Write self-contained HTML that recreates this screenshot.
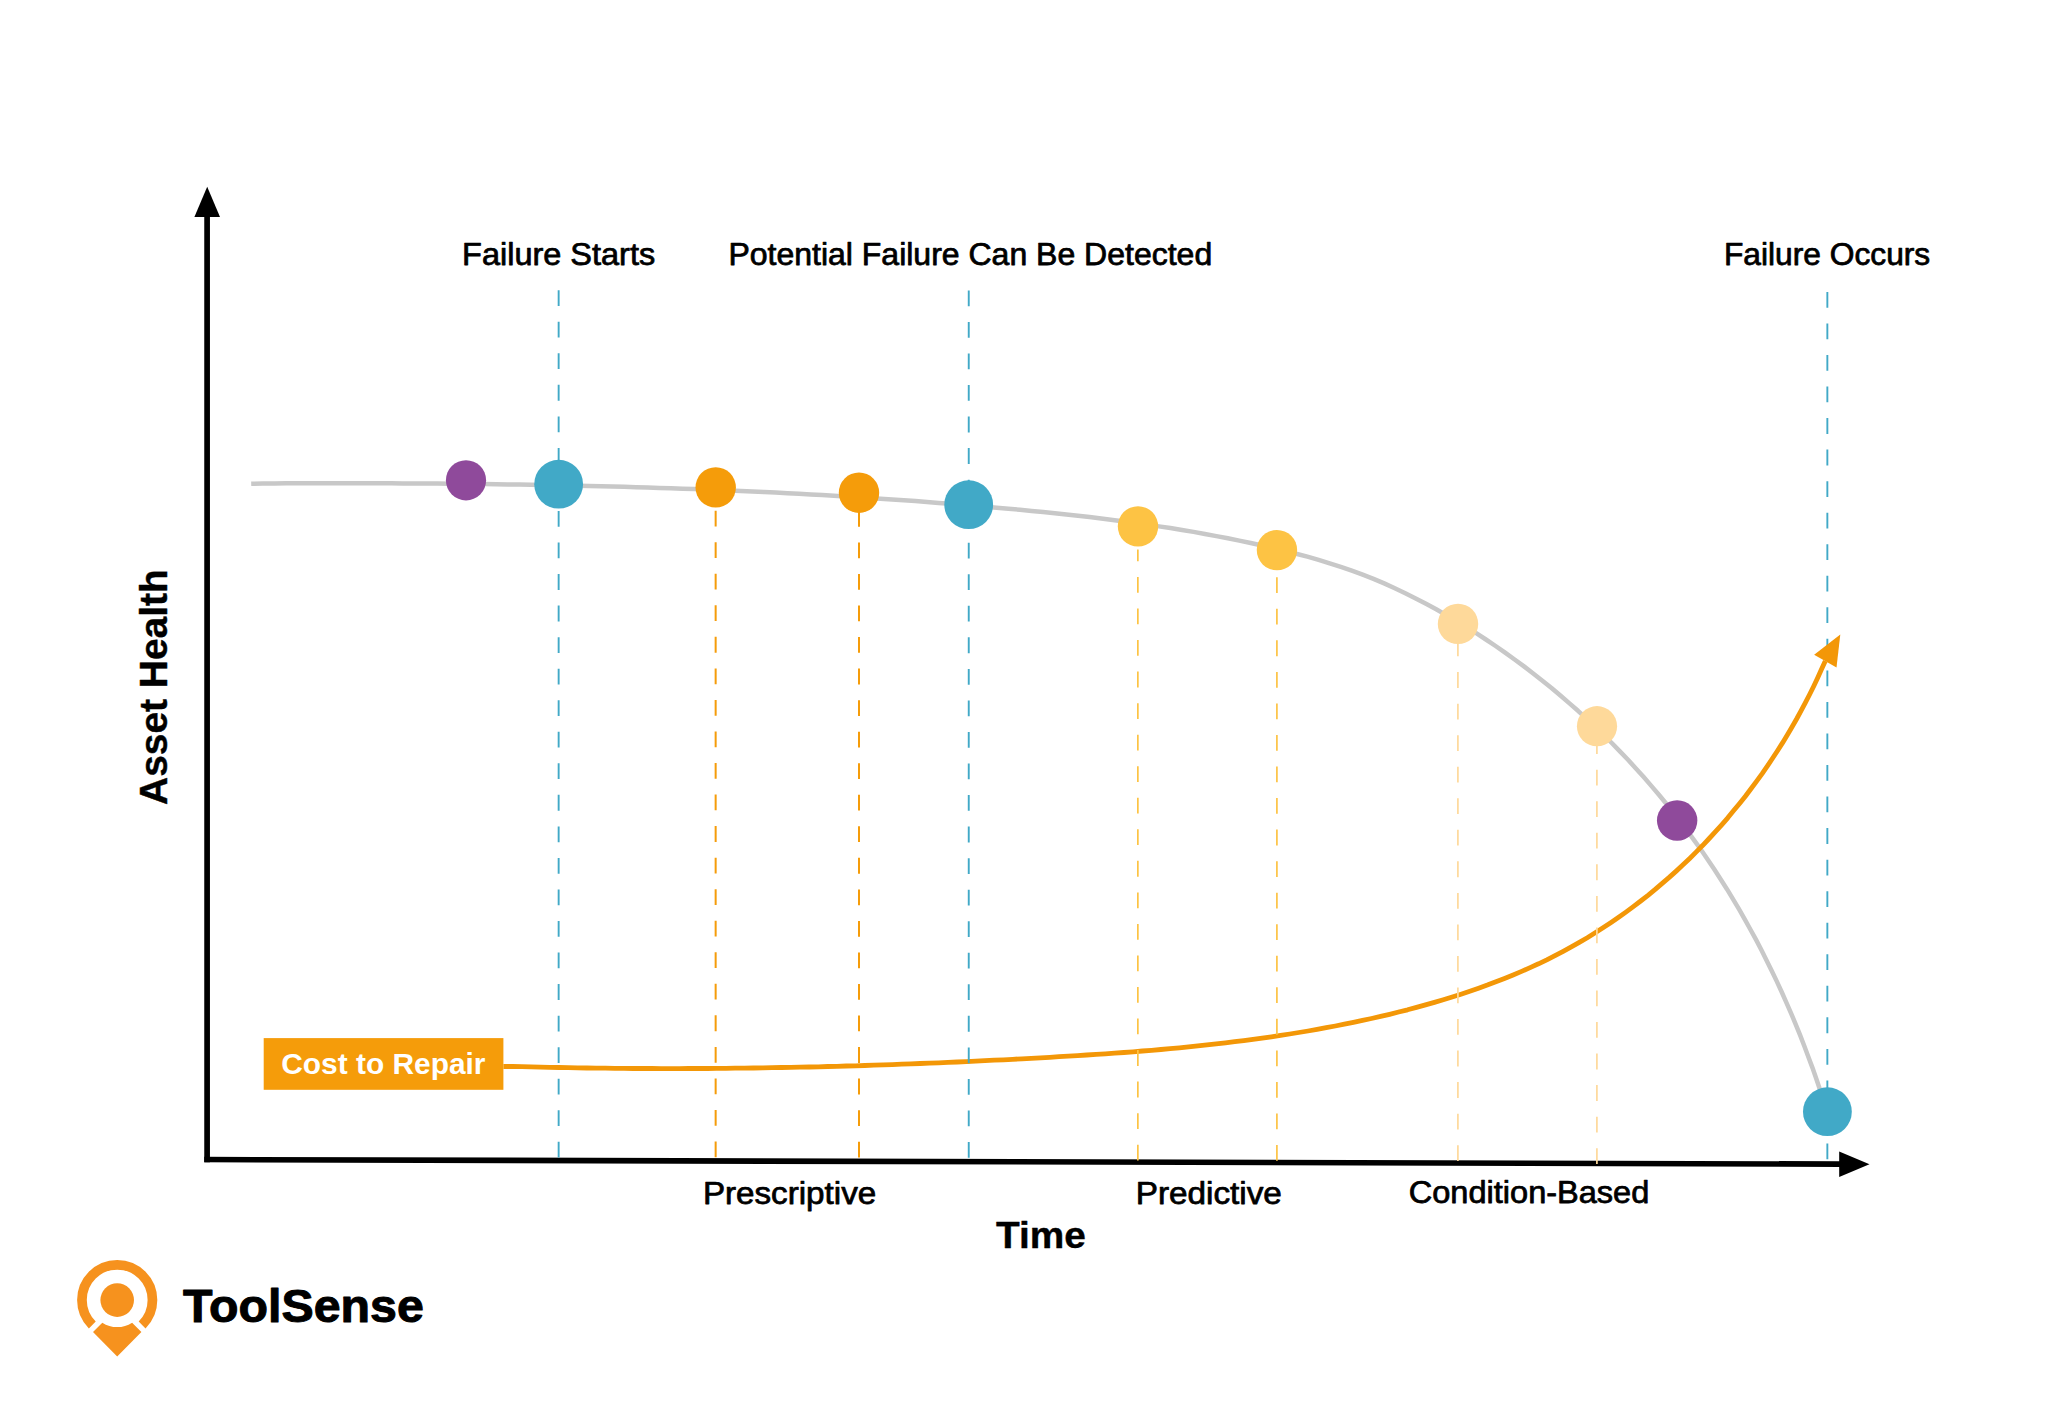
<!DOCTYPE html>
<html lang="en"><head><meta charset="utf-8"><title>P-F Curve – ToolSense</title>
<style>
html,body{margin:0;padding:0;background:#fff;}
body{width:2048px;height:1418px;overflow:hidden;}
svg{display:block;}
text{font-family:"Liberation Sans",sans-serif;}
</style></head><body>
<svg width="2048" height="1418" viewBox="0 0 2048 1418">
<rect width="2048" height="1418" fill="#fff"/>
<!-- asset health curve -->
<path d="M251.2 483.8 L262.9 483.5 L274.5 483.4 L286.2 483.3 L297.8 483.3 L309.5 483.3 L321.2 483.3 L332.8 483.2 L344.5 483.2 L356.1 483.2 L367.8 483.3 L379.5 483.3 L391.1 483.3 L402.8 483.4 L414.4 483.4 L426.1 483.5 L437.8 483.6 L449.4 483.7 L461.1 483.8 L472.8 483.9 L484.4 484.1 L496.1 484.2 L507.7 484.4 L519.4 484.5 L531.0 484.7 L542.7 484.9 L554.4 485.2 L566.0 485.4 L577.7 485.7 L589.3 485.9 L601.0 486.2 L612.6 486.5 L624.3 486.8 L636.0 487.2 L647.6 487.5 L659.3 487.9 L670.9 488.3 L682.6 488.7 L694.2 489.1 L705.9 489.5 L717.5 490.0 L729.2 490.5 L740.8 491.0 L752.5 491.5 L764.1 492.1 L775.7 492.6 L787.4 493.2 L799.0 493.8 L810.7 494.5 L822.3 495.1 L833.9 495.8 L845.6 496.5 L857.2 497.2 L868.9 497.9 L880.5 498.7 L892.1 499.5 L903.8 500.3 L915.4 501.1 L927.0 502.0 L938.6 502.9 L950.3 503.8 L961.9 504.7 L973.5 505.7 L985.1 506.7 L996.8 507.7 L1008.4 508.7 L1020.0 509.8 L1031.6 510.9 L1043.2 512.1 L1054.8 513.3 L1066.4 514.5 L1078.0 515.8 L1089.6 517.1 L1101.2 518.5 L1112.7 519.9 L1124.3 521.4 L1135.9 523.0 L1147.4 524.6 L1158.9 526.4 L1170.4 528.1 L1182.0 530.0 L1193.5 531.9 L1204.9 534.0 L1216.4 536.1 L1227.8 538.3 L1239.3 540.6 L1250.7 543.0 L1262.1 545.5 L1273.5 548.1 L1284.8 550.8 L1296.1 553.7 L1307.4 556.7 L1318.6 559.9 L1329.7 563.3 L1340.8 566.9 L1351.8 570.7 L1362.7 574.7 L1373.5 578.9 L1384.2 583.4 L1394.8 588.2 L1405.3 593.2 L1415.7 598.4 L1426.0 603.8 L1436.2 609.3 L1446.3 615.1 L1456.4 621.0 L1466.3 627.0 L1476.2 633.2 L1485.9 639.5 L1495.6 646.0 L1505.1 652.7 L1514.6 659.5 L1524.0 666.4 L1533.2 673.5 L1542.4 680.7 L1551.5 688.0 L1560.4 695.5 L1569.2 703.1 L1578.0 710.8 L1586.6 718.7 L1595.1 726.7 L1603.5 734.8 L1611.8 743.0 L1619.9 751.4 L1628.0 759.8 L1635.9 768.4 L1643.7 777.1 L1651.3 785.9 L1658.9 794.8 L1666.3 803.8 L1673.6 812.9 L1680.7 822.1 L1687.7 831.4 L1694.6 840.8 L1701.4 850.3 L1708.0 859.9 L1714.4 869.6 L1720.8 879.4 L1727.0 889.2 L1733.0 899.2 L1739.0 909.2 L1744.8 919.3 L1750.4 929.5 L1756.0 939.7 L1761.4 950.0 L1766.6 960.4 L1771.8 970.9 L1776.8 981.4 L1781.7 992.0 L1786.4 1002.6 L1791.1 1013.3 L1795.6 1024.1 L1800.0 1034.9 L1804.2 1045.8 L1808.3 1056.7 L1812.4 1067.6 L1816.2 1078.6 L1820.0 1089.7 L1823.7 1100.8 L1827.4 1111.8" fill="none" stroke="#c8c8c8" stroke-width="4.5" stroke-linejoin="round"/>
<!-- cost to repair curve -->
<path d="M503.4 1066.5 L512.6 1066.5 L521.9 1066.7 L531.2 1066.9 L540.5 1067.2 L549.7 1067.4 L559.0 1067.5 L568.3 1067.7 L577.6 1067.9 L586.9 1068.0 L596.2 1068.1 L605.4 1068.2 L614.7 1068.3 L624.0 1068.4 L633.2 1068.5 L642.5 1068.5 L651.8 1068.5 L661.0 1068.6 L670.3 1068.6 L679.6 1068.6 L688.8 1068.5 L698.1 1068.5 L707.4 1068.5 L716.6 1068.4 L725.9 1068.3 L735.1 1068.2 L744.4 1068.1 L753.6 1068.0 L762.9 1067.8 L772.1 1067.7 L781.4 1067.5 L790.6 1067.4 L799.9 1067.2 L809.2 1067.0 L818.4 1066.8 L827.7 1066.5 L836.9 1066.3 L846.2 1066.0 L855.4 1065.8 L864.7 1065.5 L873.9 1065.2 L883.2 1064.9 L892.4 1064.6 L901.7 1064.2 L910.9 1063.9 L920.2 1063.5 L929.4 1063.2 L938.7 1062.8 L947.9 1062.4 L957.2 1062.0 L966.4 1061.6 L975.7 1061.1 L984.9 1060.7 L994.2 1060.2 L1003.5 1059.8 L1012.7 1059.3 L1022.0 1058.8 L1031.2 1058.3 L1040.5 1057.8 L1049.8 1057.3 L1059.0 1056.7 L1068.3 1056.2 L1077.6 1055.6 L1086.8 1055.0 L1096.1 1054.4 L1105.3 1053.8 L1114.6 1053.1 L1123.9 1052.5 L1133.1 1051.8 L1142.4 1051.0 L1151.6 1050.3 L1160.9 1049.5 L1170.1 1048.6 L1179.4 1047.8 L1188.6 1046.9 L1197.8 1045.9 L1207.0 1044.9 L1216.2 1043.9 L1225.5 1042.8 L1234.7 1041.7 L1243.8 1040.6 L1253.0 1039.4 L1262.2 1038.1 L1271.4 1036.8 L1280.5 1035.4 L1289.7 1034.0 L1298.8 1032.5 L1308.0 1031.0 L1317.1 1029.4 L1326.2 1027.7 L1335.3 1026.0 L1344.4 1024.2 L1353.4 1022.4 L1362.5 1020.4 L1371.5 1018.5 L1380.6 1016.4 L1389.6 1014.3 L1398.6 1012.0 L1407.6 1009.8 L1416.5 1007.4 L1425.5 1004.9 L1434.4 1002.4 L1443.3 999.8 L1452.2 997.0 L1461.0 994.2 L1469.8 991.3 L1478.6 988.2 L1487.3 985.1 L1495.9 981.8 L1504.5 978.5 L1513.1 975.0 L1521.6 971.4 L1530.1 967.6 L1538.5 963.8 L1546.8 959.8 L1555.0 955.6 L1563.2 951.3 L1571.3 946.9 L1579.3 942.4 L1587.3 937.7 L1595.2 932.8 L1603.0 927.8 L1610.7 922.7 L1618.3 917.5 L1625.9 912.1 L1633.3 906.6 L1640.7 901.0 L1648.0 895.3 L1655.2 889.4 L1662.2 883.4 L1669.2 877.4 L1676.2 871.1 L1683.0 864.8 L1689.7 858.4 L1696.3 851.9 L1702.8 845.3 L1709.2 838.5 L1715.5 831.7 L1721.7 824.8 L1727.8 817.8 L1733.7 810.6 L1739.6 803.4 L1745.4 796.2 L1751.0 788.8 L1756.5 781.3 L1762.0 773.8 L1767.3 766.2 L1772.4 758.5 L1777.5 750.7 L1782.5 742.9 L1787.3 735.0 L1792.0 727.0 L1796.6 719.0 L1801.0 710.9 L1805.4 702.7 L1809.6 694.5 L1813.7 686.2 L1817.6 677.9 L1821.4 669.5 L1825.3 661.0" fill="none" stroke="#f39707" stroke-width="4.8" stroke-linejoin="round"/>
<!-- axes -->
<line x1="207.1" y1="1162.3" x2="207.1" y2="215" stroke="#000" stroke-width="5.7"/>
<polygon points="207.2,186.7 194.4,217.1 220.0,217.1" fill="#000"/>
<line x1="204.25" y1="1159.55" x2="1841" y2="1164.1" stroke="#000" stroke-width="5.6"/>
<polygon points="1869.5,1164.3 1839.2,1151.6 1839.2,1177.0" fill="#000"/>
<!-- dashed guides -->
<line x1="558.65" y1="1157.6" x2="558.65" y2="290.0" stroke="#41a9c7" stroke-width="1.9" stroke-dasharray="15.8 15.74"/>
<line x1="968.75" y1="1157.8" x2="968.75" y2="290.0" stroke="#41a9c7" stroke-width="1.9" stroke-dasharray="15.8 15.74"/>
<line x1="1827.35" y1="1159.3" x2="1827.35" y2="292.0" stroke="#41a9c7" stroke-width="1.9" stroke-dasharray="15.8 15.74"/>
<line x1="715.65" y1="1157.3" x2="715.65" y2="487.3" stroke="#f59c0a" stroke-width="2" stroke-dasharray="15.8 15.74"/>
<line x1="859.0" y1="1157.5" x2="859.0" y2="492.7" stroke="#f59c0a" stroke-width="2" stroke-dasharray="15.8 15.74"/>
<line x1="1137.85" y1="1160.5" x2="1137.85" y2="549.4" stroke="#fdc344" stroke-width="1.7" stroke-dasharray="15.8 15.74"/>
<line x1="1276.9" y1="1160.8" x2="1276.9" y2="550.3" stroke="#fdc344" stroke-width="1.7" stroke-dasharray="15.8 15.74"/>
<line x1="1457.9" y1="1161.0" x2="1457.9" y2="624.3" stroke="#fed99a" stroke-width="1.7" stroke-dasharray="15.8 15.74"/>
<line x1="1596.9" y1="1164.0" x2="1596.9" y2="726.6" stroke="#fed99a" stroke-width="1.7" stroke-dasharray="15.8 15.74"/>
<polygon points="0,0 -30.4,-12.85 -30.4,12.85" fill="#f39707" transform="translate(1840.3 634.6) rotate(-60.5)"/>
<!-- dots -->
<circle cx="466.0" cy="480.3" r="20.1" fill="#8f4a9b"/>
<circle cx="558.65" cy="484.2" r="24.4" fill="#41a9c7"/>
<circle cx="715.7" cy="487.4" r="20.2" fill="#f59c0a"/>
<circle cx="859.0" cy="492.7" r="20.2" fill="#f59c0a"/>
<circle cx="968.7" cy="504.7" r="24.4" fill="#41a9c7"/>
<circle cx="1138.0" cy="526.4" r="20.2" fill="#fdc344"/>
<circle cx="1276.95" cy="550.1" r="20.2" fill="#fdc344"/>
<circle cx="1458.0" cy="623.9" r="20.2" fill="#fed99a"/>
<circle cx="1597.0" cy="726.2" r="20.1" fill="#fed99a"/>
<circle cx="1677.15" cy="820.5" r="20.2" fill="#8f4a9b"/>
<circle cx="1827.4" cy="1111.7" r="24.4" fill="#41a9c7"/>
<!-- cost label -->
<rect x="263.7" y="1038.1" width="239.7" height="51.7" fill="#f59c0a"/>
<text x="281.30" y="1073.7" font-size="29" font-weight="bold" fill="#fff" textLength="204.18" lengthAdjust="spacingAndGlyphs">Cost to Repair</text>
<!-- labels -->
<text x="462.10" y="265.0" font-size="30.5" font-weight="normal" fill="#000" stroke="#000" stroke-width="0.75" stroke-linejoin="round" textLength="193.10" lengthAdjust="spacingAndGlyphs">Failure Starts</text>
<text x="728.40" y="265.0" font-size="30.5" font-weight="normal" fill="#000" stroke="#000" stroke-width="0.75" stroke-linejoin="round" textLength="483.80" lengthAdjust="spacingAndGlyphs">Potential Failure Can Be Detected</text>
<text x="1724.00" y="265.2" font-size="30.5" font-weight="normal" fill="#000" stroke="#000" stroke-width="0.75" stroke-linejoin="round" textLength="206.20" lengthAdjust="spacingAndGlyphs">Failure Occurs</text>
<text x="702.90" y="1203.6" font-size="30.5" font-weight="normal" fill="#000" stroke="#000" stroke-width="0.75" stroke-linejoin="round" textLength="173.31" lengthAdjust="spacingAndGlyphs">Prescriptive</text>
<text x="1135.70" y="1203.6" font-size="30.5" font-weight="normal" fill="#000" stroke="#000" stroke-width="0.75" stroke-linejoin="round" textLength="146.19" lengthAdjust="spacingAndGlyphs">Predictive</text>
<text x="1408.80" y="1203.3" font-size="30.5" font-weight="normal" fill="#000" stroke="#000" stroke-width="0.75" stroke-linejoin="round" textLength="240.49" lengthAdjust="spacingAndGlyphs">Condition-Based</text>
<text x="995.90" y="1248.4" font-size="37" font-weight="bold" fill="#000" stroke="#000" stroke-width="0.4" stroke-linejoin="round" textLength="89.89" lengthAdjust="spacingAndGlyphs">Time</text>
<g transform="translate(167.2 804.90) rotate(-90)"><text x="0" y="0" font-size="38" font-weight="bold" fill="#000" stroke="#000" stroke-width="0.4" stroke-linejoin="round" textLength="235.69" lengthAdjust="spacingAndGlyphs">Asset Health</text></g>
<!-- logo -->
<g fill="#f6921e">
<path d="M92.3 1325.0 A35.25 35.25 0 1 1 142.1 1325.0" fill="none" stroke="#f6921e" stroke-width="9.7"/>
<circle cx="117.2" cy="1300.1" r="16.8"/>
<path d="M93 1332 L102.3 1322.7 A27.3 27.3 0 0 0 132.1 1322.7 L141.4 1332 L117.2 1356.6 Z"/>
</g>
<text x="183.10" y="1321.8" font-size="46" font-weight="bold" fill="#000" stroke="#000" stroke-width="1.0" stroke-linejoin="round" textLength="240.69" lengthAdjust="spacingAndGlyphs">ToolSense</text>
</svg>
</body></html>
